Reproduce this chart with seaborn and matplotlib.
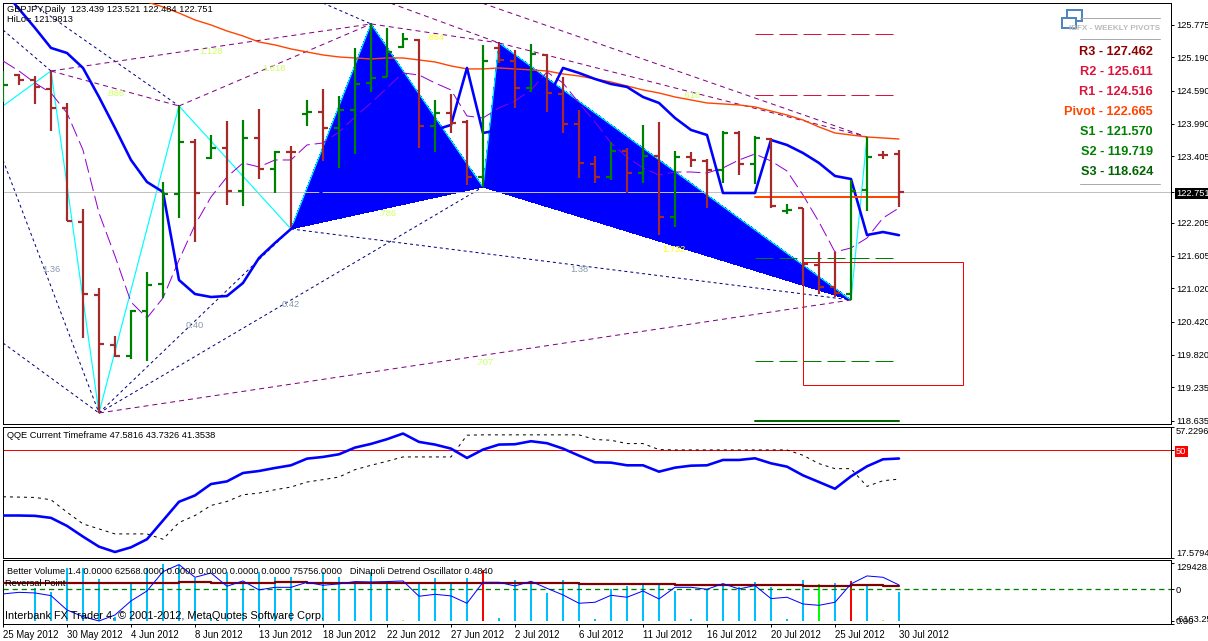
"""GBPJPY daily bar chart with harmonic patterns, QQE and volume panels."""

import numpy as np
import seaborn as sns
from matplotlib import pyplot as plt
from matplotlib.patches import Rectangle

WIDTH, HEIGHT = 1208, 641

# daily bars
opens = [124.674, 124.872, 124.782, 124.620, 124.277, 122.219, 120.901, 119.999, 119.800, 120.613,
         121.100, 122.724, 123.663, 123.374, 123.555, 122.778, 123.735, 123.176, 123.482, 124.168,
         124.204, 123.916, 124.241, 124.728, 124.836, 125.378, 125.504, 123.952, 124.186, 124.024,
         123.031, 125.360, 125.125, 124.638, 125.233, 124.529, 123.988, 123.266, 123.031, 123.500,
         123.103, 123.410, 122.309, 123.392, 123.320, 123.157, 123.825, 123.266, 123.717, 122.417,
         122.472, 121.443, 121.046, 120.919, 122.797, 123.428, 123.439]
highs = [124.944, 124.890, 124.854, 124.944, 124.367, 122.454, 121.028, 120.161, 120.631, 121.316,
         122.941, 124.313, 123.717, 123.789, 124.042, 124.060, 124.259, 123.500, 123.591, 124.421,
         124.620, 124.493, 125.360, 125.793, 125.721, 125.630, 125.522, 124.421, 124.529, 124.060,
         125.414, 125.450, 125.324, 125.432, 125.251, 124.836, 124.241, 123.410, 123.663, 123.555,
         123.970, 124.024, 123.500, 123.482, 123.356, 123.861, 123.861, 123.771, 123.735, 122.544,
         122.472, 121.677, 121.677, 122.977, 123.753, 123.500, 123.521]
lows = [124.385, 124.692, 124.349, 123.861, 122.237, 120.125, 118.771, 119.782, 119.746, 119.710,
        120.847, 122.291, 121.858, 123.356, 122.526, 122.508, 122.995, 122.742, 122.129, 123.952,
        123.320, 123.194, 123.446, 124.565, 124.836, 125.360, 123.555, 123.482, 123.825, 122.887,
        122.851, 125.089, 124.277, 124.565, 124.204, 123.825, 123.013, 122.923, 122.977, 122.742,
        122.923, 121.984, 122.129, 123.212, 122.472, 122.923, 123.067, 122.905, 122.472, 122.363,
        121.082, 120.919, 120.865, 120.811, 122.417, 123.356, 122.484]
closes = [124.692, 124.782, 124.656, 124.277, 122.237, 120.919, 120.017, 119.800, 120.613, 121.082,
          122.724, 123.663, 122.742, 123.555, 122.778, 123.735, 123.176, 123.482, 123.482, 124.204,
          123.916, 124.241, 124.710, 124.818, 125.287, 125.522, 123.952, 124.186, 124.006, 123.031,
          125.125, 125.143, 124.638, 125.251, 124.547, 123.988, 123.284, 123.031, 123.500, 123.103,
          123.410, 122.309, 123.392, 123.338, 123.157, 123.825, 123.266, 123.735, 122.508, 122.436,
          121.461, 121.046, 120.937, 122.778, 123.392, 123.428, 122.751]

# overlays on the price panel
hilo = [126.407, 126.064, 125.721, 125.360, 125.269, 124.999, 124.475, 123.916, 123.338, 122.941,
        122.760, 121.172, 120.919, 120.865, 120.883, 121.118, 121.569, 121.840, 122.093, 122.436,
        122.797, 123.157, 123.519, 123.880, 124.241, 124.421, 124.241, 123.880, 123.970, 124.999,
        123.825, 123.880, 124.060, 124.241, 124.421, 124.999, 124.908, 124.800, 124.710, 124.656,
        124.475, 124.367, 124.096, 123.880, 123.789, 122.742, 122.742, 122.742, 123.699, 123.609,
        123.464, 123.284, 123.049, 122.995, 121.984, 122.038, 121.981]
slow_ma = [126.19, 126.10, 125.99, 125.865, 125.775, 125.666, 125.576, 125.468, 125.414, 125.342,
           125.287, 125.233, 125.197, 125.179, 125.161, 125.179, 125.179, 125.143, 125.107, 125.035,
           124.981, 124.981, 124.999, 124.981, 124.963, 124.944, 124.890, 124.854, 124.800, 124.746,
           124.674, 124.602, 124.547, 124.475, 124.421, 124.367, 124.349, 124.331, 124.295, 124.222,
           124.150, 124.060, 123.934, 123.825, 123.789, 123.753, 123.735, 123.717]
slow_ma_start = 9
fast_ma = [125.125, 124.944, 124.728, 124.547, 124.186, 123.519, 122.381, 121.605, 120.775, 120.486,
           120.847, 121.533, 122.165, 122.670, 123.031, 123.284, 123.212, 123.338, 123.338, 123.609,
           123.645, 123.843, 124.114, 124.367, 124.638, 124.908, 124.872, 124.728, 124.602, 124.132,
           124.096, 124.277, 124.403, 124.602, 124.926, 124.728, 124.367, 124.024, 123.645, 123.392,
           123.194, 123.067, 123.121, 123.121, 123.103, 123.194, 123.338, 123.446, 123.320, 123.139,
           122.706, 122.219, 121.677, 121.750, 121.930, 122.291, 122.472]

# swing points of the patterns: bar number, price
swing_bars = [0, 3, 6, 11, 18, 23, 30, 31, 53, 54]
swing_prices = [124.313, 124.944, 118.771, 124.313, 122.093, 125.793, 122.851, 125.450, 120.811, 123.753]
wing_one_bars = [18, 23, 30]
wing_one_prices = [122.093, 125.793, 122.851]
wing_two_bars = [30, 31, 53]
wing_two_prices = [122.851, 125.450, 120.811]

navy_bars = [(0, 6), (0, 6), (1.69, 11), (0, 3), (20, 23), (6, 18), (6, 30), (18, 53)]
navy_prices = [(120.035, 118.771), (123.338, 118.771), (126.19, 124.313), (125.685, 124.944),
               (126.17, 125.793), (118.771, 122.093), (118.771, 122.851), (122.093, 120.811)]
purple_bars = [(3, 23), (3, 11), (11, 23), (23, 31), (24.2, 31), (31, 54), (29.94, 54), (6, 53)]
purple_prices = [(124.944, 125.793), (124.944, 124.313), (124.313, 125.793), (125.793, 125.450),
                 (126.17, 125.450), (125.450, 123.753), (126.17, 123.753), (118.771, 120.811)]

fib_labels = ["1.128", "1.618", ".886", ".854", ".618", ".786", "1.732", ".707",
              "1.36", "0.40", "0.42", "1.38"]
fib_bars = [13, 16.94, 7, 27, 43, 24, 41.94, 30.06, 3, 12, 18, 36]
fib_prices = [125.287, 124.98, 124.529, 125.54, 124.493, 122.381, 121.73, 119.69,
              121.353, 120.342, 120.721, 121.37]
fib_colors = ["#ccff66", "#ccff66", "#ccff66", "#ffff33", "#ccff66", "#ccff66", "#ffff00", "#ccff66",
              "#8899aa", "#8899aa", "#8899aa", "#8899aa"]

pivot_names = ["R3", "R2", "R1", "Pivot", "S1", "S2", "S3"]
pivot_values = [127.462, 125.611, 124.516, 122.665, 121.570, 119.719, 118.624]
pivot_colors = ["#8b0000", "#dc143c", "#dc143c", "#ff4500", "#008000", "#008000", "#006400"]

price_ticks = [125.775, 125.190, 124.590, 123.990, 123.405, 122.751, 122.205, 121.605, 121.020,
               120.420, 119.820, 119.235, 118.635]
date_labels = ["25 May 2012", "30 May 2012", "4 Jun 2012", "8 Jun 2012", "13 Jun 2012", "18 Jun 2012",
               "22 Jun 2012", "27 Jun 2012", "2 Jul 2012", "6 Jul 2012", "11 Jul 2012", "16 Jul 2012",
               "20 Jul 2012", "25 Jul 2012", "30 Jul 2012"]

# QQE panel
qqe_main = [30.39, 30.39, 30.29, 29.68, 27.26, 24.03, 21.00, 19.39, 20.80, 23.23, 28.88, 34.53, 36.44,
            39.88, 40.68, 43.21, 43.81, 44.72, 45.53, 47.54, 48.05, 48.85, 50.87, 51.98, 53.40, 55.11,
            52.59, 51.78, 50.57, 47.75, 50.27, 51.78, 51.88, 52.79, 52.19, 50.57, 48.45, 46.43, 46.33,
            45.53, 45.53, 43.61, 44.82, 45.42, 45.53, 47.14, 47.14, 47.64, 46.13, 45.12, 42.50, 40.49,
            38.46, 42.20, 45.22, 47.34, 47.58]
qqe_signal = [36.04, 35.94, 35.84, 35.13, 31.40, 27.87, 26.35, 24.84, 24.84, 24.84, 23.23, 28.27, 30.39,
              33.42, 34.63, 36.65, 37.15, 38.16, 38.97, 40.49, 41.20, 42.00, 44.21, 45.53, 46.74, 48.05,
              48.05, 48.05, 48.05, 54.61, 54.71, 54.71, 54.71, 54.71, 54.71, 54.71, 54.71, 53.30, 53.09,
              52.08, 52.08, 50.27, 50.17, 50.17, 50.17, 50.17, 50.17, 50.17, 50.17, 50.17, 48.55, 46.03,
              44.52, 44.52, 39.17, 40.88, 41.35]

# volume panel
volume = [80400, 0, 69700, 62600, 112400, 112400, 89700, 9300, 84000, 112400, 121000, 119600, 91100,
          5700, 105300, 84000, 103900, 93200, 93200, 7100, 105300, 94700, 84000, 105300, 84000, 1400,
          79700, 91100, 79700, 91100, 108900, 5700, 87500, 79700, 60500, 87500, 76900, 4300, 68300,
          74700, 78300, 78300, 64800, 4300, 68300, 76900, 71900, 84000, 73300, 4300, 87500, 79000,
          81800, 85400, 76900, 1400, 62600]
volume_kinds = {0: "climax", 25: "low", 30: "churn", 51: "climax", 53: "churn", 55: "low"}
detrend = [-0.52, -0.34, -0.41, -0.71, -2.31, -3.05, -3.54, -2.87, -1.30, -0.19, 1.97, 2.76, 1.34, 1.82,
           0.34, 0.93, -0.07, 0.22, 0.22, 0.78, 0.45, 0.60, 0.86, 0.82, 0.86, 0.93, -0.78, -0.56, -0.74,
           -1.56, 0.78, 0.78, 0.37, 0.89, 0.11, -0.63, -1.56, -1.45, -0.67, -0.89, -0.19, -1.08, 0.22,
           0.22, 0.00, 0.63, 0.04, 0.41, -1.04, -0.89, -1.64, -1.79, -1.45, 0.60, 1.49, 1.34, 0.484]
reversal = [0.74] * 11 + [0.86] * 2 + [0.74] * 4 + [0.86] * 2 + [0.74] * 5 + [0.74] * 12 \
    + [0.60] * 6 + [0.48] * 8 + [0.41] * 3 + [0.48] * 2 + [0.41] * 2

BROWN = "#a52a2a"
GREEN = "#008000"
BLUE = "#0000ff"
PX = 0.72  # one pixel in points


def panel(fig, left, top, right, bottom):
    """Axes placed by pixel edges."""
    return fig.add_axes([left / WIDTH, 1 - bottom / HEIGHT, (right - left) / WIDTH, (bottom - top) / HEIGHT])


def draw(ax, xs, ys, color, lw, style="-", z=3, **kws):
    sns.lineplot(x=xs, y=ys, ax=ax, color=color, linewidth=lw, linestyle=style, sort=False,
                 estimator=None, errorbar=None, legend=False, zorder=z, **kws)


def label(fig, x, y, text, **kws):
    kws.setdefault("fontsize", FS)
    kws.setdefault("va", "center")
    fig.text(x / WIDTH, 1 - y / HEIGHT, text, **kws)


sns.set_theme(style="white")
plt.rcParams["font.family"] = ["Liberation Sans", "DejaVu Sans"]
FS = 6.7

fig = plt.figure(figsize=(WIDTH / 100, HEIGHT / 100), dpi=100, facecolor="white")
ax = panel(fig, 2.5, 2.5, 1170.5, 424)
qq = panel(fig, 2.5, 426.5, 1170.5, 558)
vo = panel(fig, 2.5, 560, 1170.5, 624.3)

bars = np.arange(len(closes))
x_range = (-0.03, 72.97)

# ---- price panel
ax.fill(wing_one_bars, wing_one_prices, color=BLUE, lw=0, zorder=1, antialiased=False)
ax.fill(wing_two_bars, wing_two_prices, color=BLUE, lw=0, zorder=1, antialiased=False)
draw(ax, swing_bars, swing_prices, "#00ffff", 1.2 * PX, z=2)
for b, p in zip(navy_bars, navy_prices):
    draw(ax, list(b), list(p), "#000080", 1 * PX, (0, (3, 3)), z=2)
for b, p in zip(purple_bars, purple_prices):
    draw(ax, list(b), list(p), "#800080", 1 * PX, (0, (5, 4)), z=2)
ax.axhline(closes[-1], color="#c0c0c0", lw=1 * PX, zorder=2.5)

draw(ax, bars, fast_ma, "#9400d3", 1 * PX, (0, (14, 5)), z=3)
draw(ax, list(range(slow_ma_start, len(closes))), slow_ma, "#ff4500", 1.4 * PX, z=3)
draw(ax, bars, hilo, BLUE, 2.6 * PX, z=3)

bar_colors = [GREEN if c > o else BROWN for o, c in zip(opens, closes)]
ax.vlines(bars, lows, highs, colors=bar_colors, lw=2.2 * PX, zorder=4)
ax.hlines(opens, bars - 0.31, bars, colors=bar_colors, lw=2.2 * PX, zorder=4)
ax.hlines(closes, bars, bars + 0.31, colors=bar_colors, lw=2.2 * PX, zorder=4)

# weekly pivot levels run across the last bars
for value, color, name in zip(pivot_values, pivot_colors, pivot_names):
    if name == "Pivot":
        draw(ax, [47, 56], [value, value], color, 2 * PX, z=3.5)
    elif name == "S3":
        draw(ax, [47, 56], [value, value], color, 2 * PX, z=3.5)
    else:
        draw(ax, [47, 55.62], [value, value], color, 1 * PX, (0, (18, 6)), z=3.5)

ax.add_patch(Rectangle((50, 119.28), 10, 2.22, fill=False, ec="#ff0000", lw=1 * PX, zorder=3.5))

for text, b, p, color in zip(fib_labels, fib_bars, fib_prices, fib_colors):
    ax.text(b, p, text, color=color, fontsize=FS, ha="center", va="center", zorder=5)

ax.set_xlim(*x_range)
ax.set_ylim(118.573, 126.18)
ax.set_xticks([])
ax.yaxis.tick_right()
ax.set_yticks(price_ticks)
ax.set_yticklabels([f"{t:.3f}" for t in price_ticks], fontsize=6.7)
ax.tick_params(axis="y", right=True, length=2.5, width=0.7, pad=1.5, color="black", labelcolor="black")
ax.get_yticklabels()[5].set(color="white", bbox={"fc": "black", "ec": "none", "pad": 0.6})
ax.set_ylabel("")

# pivot table, top right
fig.add_artist(Rectangle((1067 / WIDTH, 1 - 21 / HEIGHT), 15 / WIDTH, 11 / HEIGHT, fill=False,
                         ec="#4f86bd", lw=2 * PX, transform=fig.transFigure))
fig.add_artist(Rectangle((1062 / WIDTH, 1 - 28 / HEIGHT), 14 / WIDTH, 10 / HEIGHT, fc="white",
                         ec="#4f86bd", lw=2 * PX, transform=fig.transFigure))
for rule_y in (18, 39, 184):
    fig.add_artist(plt.Line2D([1080 / WIDTH, 1160 / WIDTH], [1 - rule_y / HEIGHT] * 2, color="#aaaaaa",
                              lw=1 * PX, transform=fig.transFigure))
label(fig, 1160, 29, "IBFX - WEEKLY PIVOTS", color="#bbbbbb", ha="right", fontsize=5.9, fontweight="bold")
for row, (name, value, color) in enumerate(zip(pivot_names, pivot_values, pivot_colors)):
    label(fig, 1153, 52 + 20 * row, f"{name} - {value:.3f}", color=color, ha="right", fontsize=9.2,
          fontweight="bold")

label(fig, 7, 10, "GBPJPY,Daily  123.439 123.521 122.484 122.751", color="black")
label(fig, 7, 20, "HiLo= 121.9813", color="black")

# ---- QQE panel
qq.axhline(50, color="#ff0000", lw=1 * PX, zorder=2)
draw(qq, bars, qqe_signal, "black", 1 * PX, (0, (3, 4)), z=3)
draw(qq, bars, qqe_main, BLUE, 2.6 * PX, z=4)
qq.set_xlim(*x_range)
qq.set_ylim(17.5794, 57.2296)
qq.set_xticks([])
qq.yaxis.tick_right()
qq.set_yticks([57.2296, 50, 17.5794])
qq.set_yticklabels(["57.2296", "50", "17.5794"], fontsize=6.7)
qq.tick_params(axis="y", right=True, length=2.5, width=0.7, pad=1.5, color="black", labelcolor="black")
qq_labels = qq.get_yticklabels()
qq_labels[0].set_va("top")
qq_labels[2].set_va("bottom")
qq_labels[1].set(color="white", bbox={"fc": "#ff0000", "ec": "none", "pad": 0.8})
label(fig, 7, 436, "QQE Current Timeframe 47.5816 43.7326 41.3538", color="black")

# ---- volume and detrend panel
kinds = [volume_kinds.get(i, "normal") for i in bars]
sns.barplot(x=bars, y=volume, hue=kinds, ax=vo, native_scale=True, dodge=False, legend=False,
            palette={"normal": "#00bfff", "climax": "#00ff00", "churn": "#ff0000", "low": "#ffd700"},
            width=0.11, saturation=1, linewidth=0, zorder=2, antialiased=False)

osc = vo.twinx()
osc.axhline(0, color=GREEN, lw=1.3 * PX, ls=(0, (4, 3)), zorder=2)
draw(osc, bars, reversal, "#800000", 2.2 * PX, z=3, drawstyle="steps-post")
draw(osc, bars, detrend, BLUE, 1 * PX, z=4)
osc.set_xlim(*x_range)
osc.set_ylim(-3.91, 3.27)
osc.set_yticks([])
osc.set_ylabel("")

# twinx sends the host's ticks left, so the right side is set up after it
vo.set_xlim(*x_range)
vo.set_ylim(-7050, 130200)
vo.set_xticks(bars[::4])
vo.set_xticklabels(date_labels, fontsize=6.9, ha="left")
vo.yaxis.tick_right()
vo.set_yticks([124000, 67700, -6163.25, 0])
vo.set_yticklabels(["129428.3", "0", "-6163.25", "0.00"], fontsize=6.7)
vo.tick_params(axis="both", length=2.5, width=0.7, color="black", labelcolor="black", bottom=True, right=True)
vo.tick_params(axis="y", pad=1.5)
vo.tick_params(axis="x", pad=1.5)
vo_labels = vo.get_yticklabels()
vo_labels[0].set_va("top")
vo_labels[2].set_va("bottom")
vo.set_ylabel("")

label(fig, 7, 571, "Better Volume 1.4 0.0000 62568.0000 0.0000 0.0000 0.0000 0.0000 75756.0000   "
      "DiNapoli Detrend Oscillator 0.4840", color="black")
label(fig, 5, 583, "Reversal Point", color="black")
label(fig, 5, 616, "Interbank FX Trader 4, © 2001-2012, MetaQuotes Software Corp.", color="black", fontsize=7.9)

for axis in (ax, qq, vo, osc):
    for spine in axis.spines.values():
        spine.set(color="black", linewidth=1 * PX, visible=True)

fig.savefig("out.png", dpi=100)
